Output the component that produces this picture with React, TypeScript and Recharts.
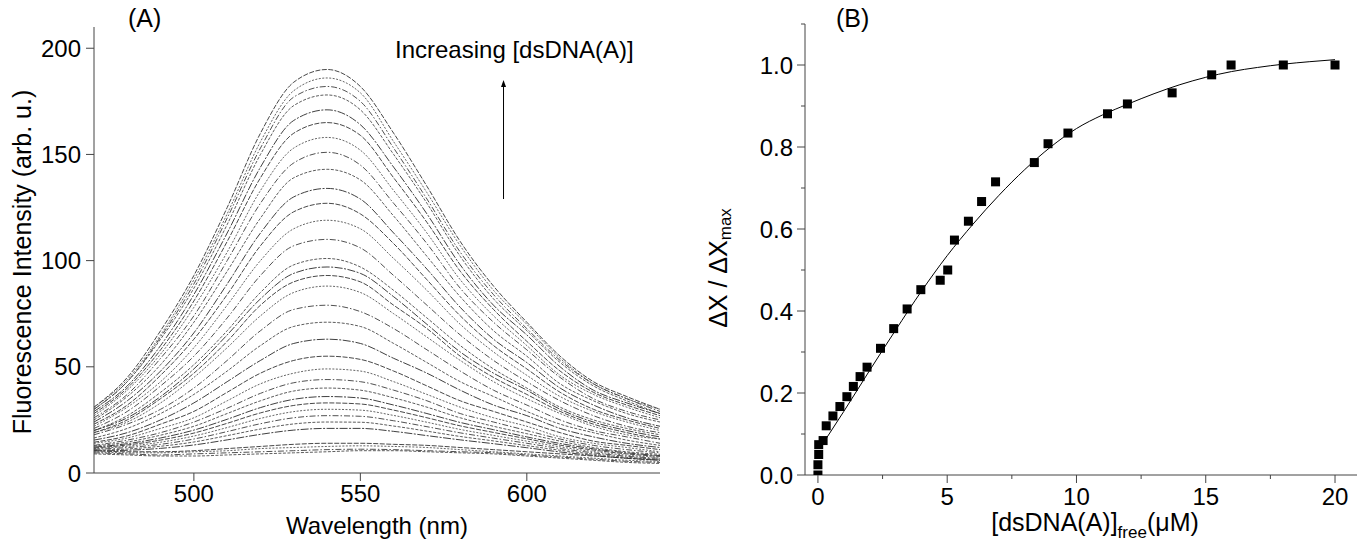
import React from "react";
import { LineChart, Line, XAxis, YAxis, ComposedChart, Scatter, Label, ReferenceLine } from "recharts";

// ---------- Panel (A): fluorescence spectra ----------
const wavelengths = [470, 480, 490, 500, 510, 520, 530, 540, 550, 560, 570, 580, 590, 600, 610, 620, 630, 640];
const intensityTraces: number[][] = [
  [31, 45, 67, 93, 125, 160, 184, 190, 182, 160, 135, 109, 88, 71, 55, 43, 36, 30],
  [31, 44, 65, 91, 122, 156, 180, 186, 179, 156, 132, 107, 86, 70, 54, 42, 35, 30],
  [30, 43, 64, 89, 120, 153, 177, 182, 175, 153, 129, 104, 84, 68, 53, 42, 35, 29],
  [30, 43, 63, 87, 117, 150, 173, 178, 171, 150, 127, 102, 82, 67, 52, 41, 34, 28],
  [29, 41, 60, 84, 113, 144, 166, 171, 164, 144, 122, 98, 79, 65, 50, 39, 33, 28],
  [28, 40, 58, 81, 109, 139, 160, 165, 159, 139, 118, 95, 77, 62, 48, 38, 32, 27],
  [27, 39, 56, 78, 104, 133, 153, 158, 152, 133, 113, 91, 74, 60, 46, 37, 31, 26],
  [26, 37, 54, 74, 100, 127, 146, 151, 145, 127, 108, 87, 71, 58, 45, 35, 29, 25],
  [25, 36, 51, 71, 95, 120, 139, 143, 138, 121, 102, 83, 67, 55, 42, 34, 28, 24],
  [24, 34, 48, 66, 89, 113, 130, 134, 129, 113, 96, 78, 63, 52, 40, 32, 26, 22],
  [23, 32, 46, 63, 84, 107, 123, 127, 122, 108, 91, 74, 60, 49, 38, 30, 25, 21],
  [22, 31, 43, 59, 79, 100, 115, 119, 115, 101, 86, 70, 57, 46, 36, 29, 24, 20],
  [21, 29, 41, 55, 73, 93, 107, 110, 106, 93, 79, 65, 53, 43, 34, 27, 22, 19],
  [20, 27, 38, 51, 67, 85, 98, 101, 97, 86, 73, 60, 49, 40, 31, 25, 21, 18],
  [20, 26, 36, 49, 65, 82, 94, 97, 94, 83, 70, 57, 47, 39, 30, 24, 20, 17],
  [19, 25, 35, 47, 62, 79, 90, 93, 90, 79, 68, 55, 45, 37, 29, 23, 19, 16],
  [19, 24, 33, 45, 59, 74, 85, 88, 85, 75, 64, 53, 43, 35, 28, 22, 18, 16],
  [18, 23, 30, 40, 53, 67, 77, 79, 76, 68, 58, 48, 39, 32, 25, 20, 17, 14],
  [16.5, 21, 28, 37, 48, 60, 69, 71, 69, 61, 52, 43, 36, 29, 23, 19, 15.5, 13],
  [15.5, 19, 25, 33, 43, 53, 61, 63, 61, 54, 47, 39, 32, 27, 21, 17, 14, 12],
  [14.5, 17.5, 23, 29, 38, 47, 53, 55, 53.5, 48, 41, 34, 29, 24, 19, 15, 13, 11],
  [14, 16.5, 21, 26, 34, 42, 47, 49, 48, 43, 37, 31, 26, 22, 17, 14, 12, 10],
  [13, 15.5, 19, 24, 30.5, 37.5, 42.5, 44, 43, 39, 34, 28, 24, 20, 16, 13, 11, 9.5],
  [12.7, 14.6, 17.8, 22, 28, 34, 38.6, 40, 39, 35.4, 31, 26, 22, 18.5, 15, 12, 10, 8.8],
  [12.2, 13.8, 16.5, 20.2, 25.3, 30.8, 34.7, 36, 35.3, 32, 28, 23.8, 20.4, 17, 13.9, 11.4, 9.5, 8.2],
  [11.8, 13.2, 15.5, 18.8, 23.4, 28.3, 31.8, 33, 32.5, 29.6, 26, 22.2, 19.1, 16.1, 13.1, 10.8, 9, 7.8],
  [11.5, 12.6, 14.5, 17.4, 21.4, 25.7, 28.9, 30, 29.6, 27.1, 23.9, 20.5, 17.7, 15, 12.3, 10.1, 8.4, 7.4],
  [11.1, 12, 13.5, 16, 19.5, 23.2, 26, 27, 26.7, 24.6, 21.8, 18.9, 16.4, 14, 11.5, 9.5, 7.9, 6.9],
  [10.7, 11.3, 12.6, 14.6, 17.6, 20.7, 23.1, 24, 23.9, 22.1, 19.7, 17.2, 15.1, 12.9, 10.7, 8.9, 7.4, 6.5],
  [10.4, 10.7, 11.6, 13.2, 15.6, 18.2, 20.2, 21, 21, 19.6, 17.6, 15.6, 13.8, 11.9, 9.9, 8.3, 6.9, 6.1],
  [10.5, 10, 10, 10.5, 11.5, 12.5, 13.5, 14, 14, 13.5, 13, 12, 11, 10, 9, 8, 7, 6],
  [10, 9.5, 9.5, 10, 10.5, 11.5, 12, 12.5, 12.8, 12.5, 12, 11, 10, 9, 8, 7, 6, 5.5],
  [9.5, 9, 8.5, 9, 9.5, 10, 10.5, 11, 11.2, 11, 10.5, 10, 9.5, 8.5, 7.5, 6.5, 5.5, 5],
  [9, 8.5, 8, 8, 8.5, 9, 9.5, 10, 10.5, 10.5, 10, 9.5, 9, 8, 7, 6, 5, 4.5],
];
const wavelengthTicks = [500, 550, 600];
const intensityTicks = [0, 50, 100, 150, 200];
const arrowWavelength = 593;
const arrowFromIntensity = 129;
const arrowToIntensity = 185;

// ---------- Panel (B): binding isotherm ----------
const concentrations = [0, 0, 0.03, 0.03, 0.2, 0.32, 0.58, 0.85, 1.12, 1.37, 1.63, 1.9, 2.42, 2.93, 3.45, 3.98, 4.73, 5.02, 5.28, 5.82, 6.33, 6.87, 8.37, 8.9, 9.67, 11.2, 11.97, 13.7, 15.23, 15.98, 18.0, 20.0];
const fractions = [0, 0.025, 0.05, 0.074, 0.084, 0.12, 0.144, 0.167, 0.191, 0.216, 0.24, 0.263, 0.309, 0.357, 0.405, 0.452, 0.475, 0.5, 0.573, 0.619, 0.667, 0.715, 0.762, 0.808, 0.834, 0.881, 0.905, 0.932, 0.976, 1.0, 1.0, 1.0];
const fitConcentrations = [0.3, 1, 2, 3, 4, 5, 6, 7, 8, 9, 10, 11, 12, 13, 14, 15, 16, 17, 18, 19, 20];
const fitFractions = [0.087, 0.155, 0.255, 0.353, 0.448, 0.535, 0.612, 0.682, 0.745, 0.8, 0.845, 0.878, 0.905, 0.93, 0.952, 0.97, 0.984, 0.994, 1.002, 1.008, 1.013];
const concentrationTicks = [0, 2.5, 5, 7.5, 10, 12.5, 15, 17.5, 20];
const fractionTicks = [0, 0.1, 0.2, 0.3, 0.4, 0.5, 0.6, 0.7, 0.8, 0.9, 1.0, 1.1];

const spectraRows = wavelengths.map((wl, i) => {
  const row: Record<string, number> = { wl };
  intensityTraces.forEach((trace, j) => {
    row["c" + j] = trace[i];
  });
  return row;
});
const pointRows = concentrations.map((x, i) => ({ x, y: fractions[i] }));
const fitRows = fitConcentrations.map((x, i) => ({ x, y: fitFractions[i] }));

const AXIS = "#444";
const FONT = "'Liberation Sans', Arial, Helvetica, sans-serif";
const DASHES = ["5 1.5", "2 1.5", "6 2 1.5 2", "3 1.5", "8 1.5 2 1.5"];
const TRACE_COLORS = ["#333", "#555", "#3d3d3d", "#4a4a4a", "#2a2a2a"];

const XTickB = (props: any) => {
  const { x, y, payload } = props;
  const v = payload.value;
  const major = Math.abs(v % 5) < 1e-6;
  return (
    <g>
      <line x1={x} x2={x} y1={y} y2={y + (major ? 8 : 4)} stroke={AXIS} strokeWidth={1} />
      {major && (
        <text x={x} y={y + 30} textAnchor="middle" fontSize={24} fill="#000">
          {v}
        </text>
      )}
    </g>
  );
};

const YTickB = (props: any) => {
  const { x, y, payload } = props;
  const v = payload.value;
  const major = Math.round(v * 10) % 2 === 0;
  return (
    <g>
      <line x1={x} x2={x - (major ? 8 : 4)} y1={y} y2={y} stroke={AXIS} strokeWidth={1} />
      {major && (
        <text x={x - 12} y={y + 8.5} textAnchor="end" fontSize={24} fill="#000">
          {v.toFixed(1)}
        </text>
      )}
    </g>
  );
};

const Square = (props: any) => {
  const { cx, cy } = props;
  return <rect x={cx - 4.5} y={cy - 4.5} width={9} height={9} fill="#000" />;
};

const Arrow = (props: any) => {
  const { x1, y1, x2, y2 } = props;
  return (
    <g>
      <line x1={x1} y1={y1} x2={x2} y2={y2 + 6} stroke="#000" strokeWidth={1} />
      <polygon points={`${x2},${y2} ${x2 - 2.5},${y2 + 7} ${x2 + 2.5},${y2 + 7}`} fill="#000" />
    </g>
  );
};

export default function App() {
  return (
    <div style={{ position: "absolute", left: 0, top: 0, width: 1357, height: 544, background: "#fff", fontFamily: FONT }}>
      <div style={{ position: "absolute", left: 0, top: 0 }}>
        <LineChart width={680} height={544} data={spectraRows} margin={{ top: 27, right: 20, bottom: 11, left: 0 }}>
          <XAxis
            type="number"
            dataKey="wl"
            domain={[470, 640]}
            ticks={wavelengthTicks}
            interval={0}
            height={60}
            tickSize={8}
            tickMargin={4}
            stroke={AXIS}
            tick={{ fill: "#000", fontSize: 24 }}
            allowDataOverflow
          >
            <Label
              content={(p: any) => (
                <text x={p.viewBox.x + p.viewBox.width / 2} y={p.viewBox.y + 61} textAnchor="middle" fontSize={24} fill="#000">
                  Wavelength (nm)
                </text>
              )}
            />
          </XAxis>
          <YAxis
            type="number"
            domain={[0, 210]}
            ticks={intensityTicks}
            interval={0}
            width={94}
            tickSize={8}
            tickMargin={5}
            stroke={AXIS}
            tick={{ fill: "#000", fontSize: 24 }}
            allowDataOverflow
          >
            <Label
              content={() => (
                <text x={22} y={262} transform="rotate(-90 22 262)" textAnchor="middle" dominantBaseline="central" fontSize={25} fill="#000">
                  Fluorescence Intensity (arb. u.)
                </text>
              )}
            />
          </YAxis>
          {intensityTraces.map((_, j) => (
            <Line
              key={j}
              dataKey={"c" + j}
              type="monotone"
              stroke={TRACE_COLORS[j % TRACE_COLORS.length]}
              strokeWidth={0.9}
              strokeDasharray={DASHES[j % DASHES.length]}
              dot={false}
              isAnimationActive={false}
            />
          ))}
          <ReferenceLine
            segment={[
              { x: arrowWavelength, y: arrowFromIntensity },
              { x: arrowWavelength, y: arrowToIntensity },
            ]}
            shape={Arrow}
          />
        </LineChart>
      </div>
      <div style={{ position: "absolute", left: 680, top: 0 }}>
        <ComposedChart width={677} height={544} margin={{ top: 24, right: 0, bottom: 9, left: 0 }}>
          <XAxis
            type="number"
            dataKey="x"
            domain={[-0.5, 20.85]}
            ticks={concentrationTicks}
            interval={0}
            height={60}
            tickSize={0}
            tickMargin={0}
            tickLine={false}
            tick={<XTickB />}
            stroke={AXIS}
            allowDataOverflow
          >
            <Label
              content={(p: any) => {
                const cx = p.viewBox.x + p.viewBox.width / 2 + 14;
                return (
                  <text x={cx} y={p.viewBox.y + 56} textAnchor="middle" fontSize={25} fill="#000">
                    [dsDNA(A)]
                    <tspan fontSize={17} dy={7}>free</tspan>
                    <tspan dy={-7}>(μM)</tspan>
                  </text>
                );
              }}
            />
          </XAxis>
          <YAxis
            type="number"
            dataKey="y"
            domain={[0, 1.1]}
            ticks={fractionTicks}
            interval={0}
            width={125}
            tickSize={0}
            tickMargin={0}
            tickLine={false}
            tick={<YTickB />}
            stroke={AXIS}
            allowDataOverflow
          >
            <Label
              content={() => (
                <text x={38} y={268} transform="rotate(-90 38 268)" textAnchor="middle" dominantBaseline="central" fontSize={25} fill="#000">
                  ΔX / ΔX
                  <tspan fontSize={17} dy={7}>max</tspan>
                </text>
              )}
            />
          </YAxis>
          <Line data={fitRows} dataKey="y" type="monotone" stroke="#000" strokeWidth={1} dot={false} isAnimationActive={false} />
          <Scatter data={pointRows} dataKey="y" shape={Square} isAnimationActive={false} />
        </ComposedChart>
      </div>
      <svg width={1357} height={544} style={{ position: "absolute", left: 0, top: 0, pointerEvents: "none" }}>
        <text x={128} y={27} fontSize={25} fill="#000">(A)</text>
        <text x={836} y={27} fontSize={25} fill="#000">(B)</text>
        <text x={395} y={58} fontSize={24} fill="#000">Increasing [dsDNA(A)]</text>
      </svg>
    </div>
  );
}
